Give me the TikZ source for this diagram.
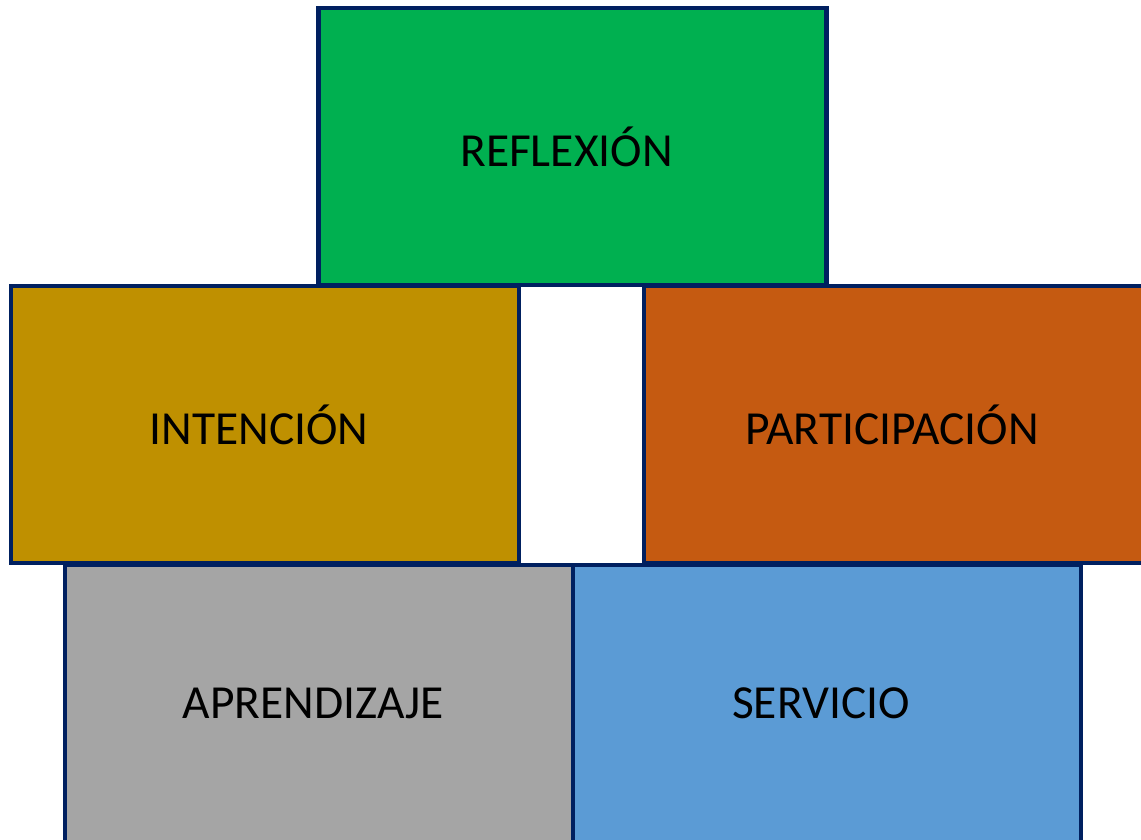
\documentclass[tikz,border=0pt]{standalone}
\usepackage{fontspec}
\setmainfont{Carlito}
\usepackage{tikz}
\usetikzlibrary{positioning,backgrounds}
\definecolor{edgenavy}{RGB}{0,32,96}
\definecolor{reflgreen}{RGB}{0,176,80}
\definecolor{intgold}{RGB}{191,144,0}
\definecolor{partorange}{RGB}{197,90,17}
\definecolor{aprgray}{RGB}{165,165,165}
\definecolor{servblue}{RGB}{91,155,213}
\pgfdeclarelayer{edgelayer}
\pgfdeclarelayer{nodelayer}
\pgfsetlayers{edgelayer,nodelayer,main}
\tikzstyle{brick}=[rectangle, draw=edgenavy, line width=0.09cm, minimum width=10.16cm, minimum height=5.54cm, inner sep=0pt]
\tikzstyle{bricktext}=[inner sep=0pt, xshift=-0.12cm, font=\fontsize{27}{32}\selectfont]
\tikzstyle{none}=[inner sep=0pt]

\begin{document}
\begin{tikzpicture}
	\useasboundingbox (0,0) rectangle (22.82,-16.8);
	\clip (0,0) rectangle (22.82,-16.8);
	\begin{pgfonlayer}{nodelayer}
		\node [style=brick, fill=reflgreen, label={[bricktext]center:REFLEXIÓN}] (refl) at (11.45,-2.93) {};
		\node [style=brick, fill=intgold, label={[bricktext]center:INTENCIÓN}] (inten) at (5.30,-8.49) {};
		\node [style=brick, fill=partorange, label={[bricktext]center:PARTICIPACIÓN}] (partic) at (17.96,-8.49) {};
		\node [style=brick, fill=aprgray, label={[bricktext]center:APRENDIZAJE}] (aprend) at (6.38,-14.07) {};
		\node [style=brick, fill=servblue, label={[bricktext]center:SERVICIO}] (serv) at (16.54,-14.07) {};
	\end{pgfonlayer}
\end{tikzpicture}
\end{document}
